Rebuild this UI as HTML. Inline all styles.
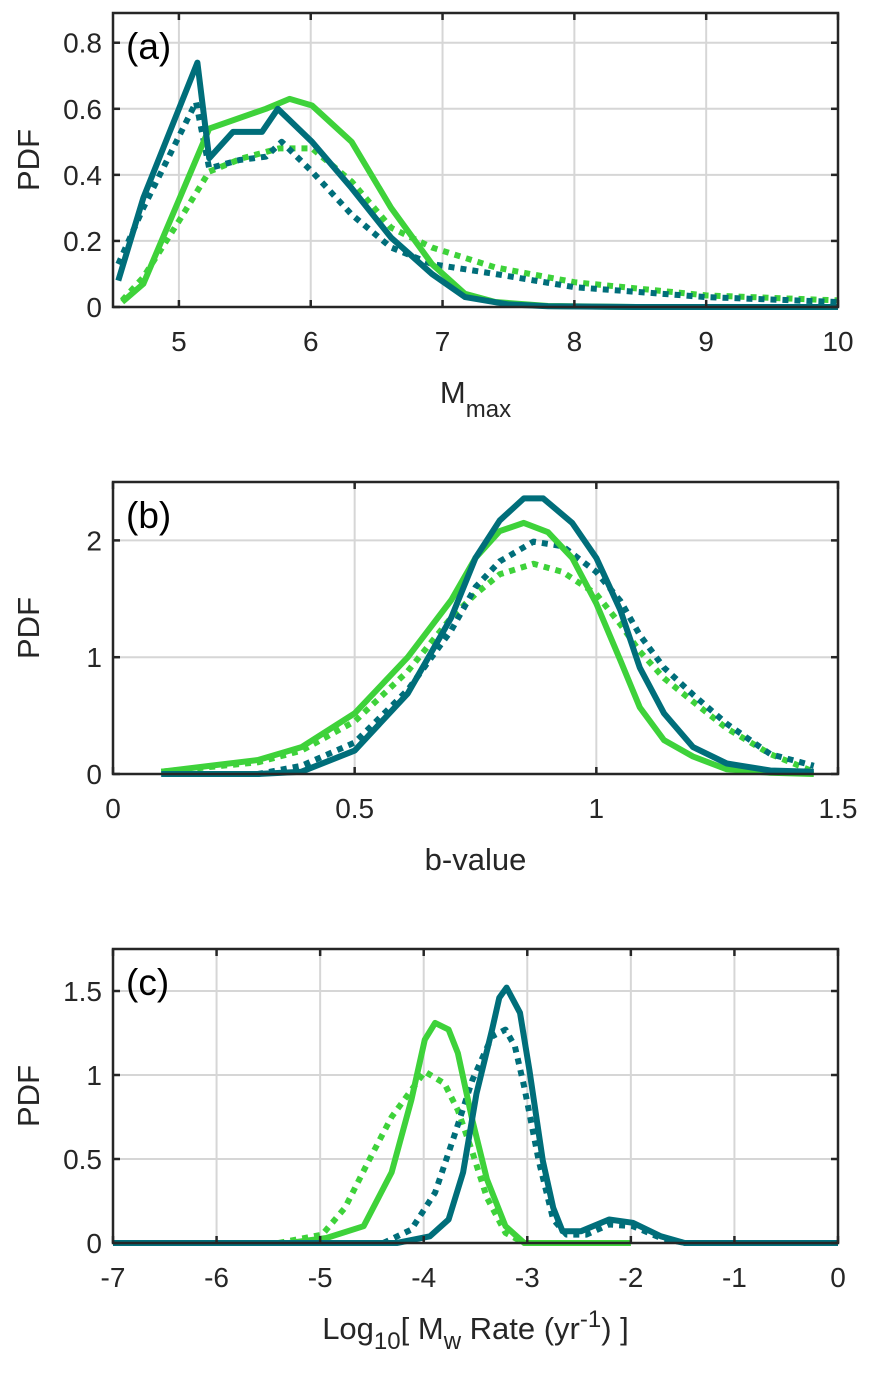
<!DOCTYPE html>
<html><head><meta charset="utf-8"><style>
body{margin:0;background:#fff;}
svg{display:block;font-family:"Liberation Sans",Arial,sans-serif;}
</style></head><body>
<svg id="fig" width="876" height="1381" viewBox="0 0 876 1381" xmlns="http://www.w3.org/2000/svg"></svg>
<script>
// ---------- Panel (a) data: Mmax ----------
const aTealSolidX=[4.54,4.73,5.14,5.23,5.41,5.63,5.75,6.01,6.31,6.61,6.92,7.17,7.5,7.8,8.5,9.5,10];
const aTealSolidY=[0.08,0.33,0.74,0.45,0.53,0.53,0.60,0.50,0.36,0.21,0.10,0.03,0.008,0.002,0,0,0];
const aTealDotX=[4.54,4.73,5.13,5.23,5.46,5.66,5.78,6.01,6.31,6.61,6.92,7.4,8,9,10];
const aTealDotY=[0.13,0.30,0.62,0.42,0.445,0.455,0.50,0.41,0.28,0.18,0.13,0.10,0.06,0.03,0.015];
const aGreenSolidX=[4.57,4.73,5.23,5.66,5.84,6.01,6.31,6.61,6.92,7.17,7.4,7.8,8.5,9.5,10];
const aGreenSolidY=[0.015,0.07,0.54,0.60,0.63,0.61,0.50,0.30,0.13,0.04,0.015,0.003,0,0,0];
const aGreenDotX=[4.57,4.73,5.0,5.23,5.48,5.76,6.01,6.31,6.61,6.92,7.4,8,9,10];
const aGreenDotY=[0.02,0.09,0.26,0.41,0.45,0.48,0.48,0.38,0.24,0.18,0.12,0.075,0.035,0.02];
const aXTicks=[5,6,7,8,9,10];
const aYTicks=[0,0.2,0.4,0.6,0.8];
const aYTickLabels=["0","0.2","0.4","0.6","0.8"];

// ---------- Panel (b) data: b-value ----------
const bTealSolidX=[0.10,0.30,0.39,0.50,0.61,0.70,0.75,0.80,0.85,0.89,0.95,1.00,1.05,1.09,1.14,1.20,1.27,1.36,1.45];
const bTealSolidY=[0,0,0.02,0.20,0.69,1.34,1.85,2.17,2.36,2.36,2.15,1.85,1.40,0.91,0.52,0.23,0.09,0.03,0.02];
const bGreenSolidX=[0.10,0.30,0.39,0.50,0.61,0.70,0.75,0.80,0.85,0.90,0.95,1.00,1.05,1.09,1.14,1.20,1.27,1.36,1.45];
const bGreenSolidY=[0.02,0.12,0.23,0.52,1.0,1.49,1.85,2.08,2.15,2.07,1.85,1.46,0.97,0.57,0.29,0.15,0.04,0.01,0];
const bGreenDotX=[0.10,0.30,0.39,0.50,0.61,0.70,0.75,0.80,0.87,0.93,1.00,1.05,1.09,1.14,1.20,1.27,1.36,1.45];
const bGreenDotY=[0.02,0.10,0.20,0.45,0.88,1.34,1.54,1.71,1.80,1.73,1.54,1.28,1.05,0.82,0.62,0.39,0.17,0.02];
const bTealDotX=[0.10,0.30,0.39,0.50,0.61,0.70,0.75,0.80,0.87,0.93,1.00,1.05,1.09,1.14,1.20,1.27,1.36,1.45];
const bTealDotY=[0,0,0.07,0.27,0.72,1.23,1.60,1.82,1.99,1.95,1.73,1.48,1.19,0.91,0.68,0.43,0.17,0.07];
const bXTicks=[0,0.5,1,1.5];
const bXTickLabels=["0","0.5","1","1.5"];
const bYTicks=[0,1,2];

// ---------- Panel (c) data: log10 rate ----------
const cGreenSolidX=[-7,-5.3,-4.94,-4.58,-4.31,-4.12,-3.99,-3.89,-3.76,-3.67,-3.53,-3.39,-3.21,-3.03,-2.0];
const cGreenSolidY=[0,0,0.03,0.10,0.42,0.85,1.21,1.31,1.27,1.13,0.73,0.38,0.10,0,0];
const cGreenDotX=[-5.40,-4.98,-4.76,-4.53,-4.31,-4.12,-3.99,-3.80,-3.67,-3.53,-3.39,-3.21,-3.03];
const cGreenDotY=[0,0.05,0.21,0.49,0.75,0.91,1.02,0.95,0.79,0.54,0.27,0.06,0];
const cTealDotX=[-4.39,-4.12,-3.89,-3.71,-3.53,-3.34,-3.21,-3.12,-3.03,-2.89,-2.75,-2.62,-2.43,-2.21,-1.98,-1.71,-1.48];
const cTealDotY=[0,0.08,0.30,0.63,0.97,1.23,1.27,1.17,0.93,0.49,0.14,0.05,0.05,0.11,0.10,0.03,0];
const cTealSolidX=[-7,-4.26,-3.94,-3.76,-3.62,-3.49,-3.34,-3.27,-3.20,-3.07,-2.98,-2.85,-2.75,-2.66,-2.48,-2.21,-1.98,-1.71,-1.48,0];
const cTealSolidY=[0,0,0.04,0.14,0.42,0.89,1.27,1.46,1.52,1.37,1.03,0.49,0.21,0.07,0.07,0.14,0.12,0.04,0,0];
const cXTicks=[-7,-6,-5,-4,-3,-2,-1,0];
const cYTicks=[0,0.5,1,1.5];
const cYTickLabels=["0","0.5","1","1.5"];

const NS="http://www.w3.org/2000/svg";
const svg=document.getElementById('fig');
const TEAL="#006e7a", GREEN="#3ed23a";
function mk(tag,attrs,parent){const e=document.createElementNS(NS,tag);for(const k in attrs)e.setAttribute(k,attrs[k]);(parent||svg).appendChild(e);return e;}

function panel(cfg){
  const g=mk('g',{});
  
  
  const L=113,R=838,T=cfg.top,B=cfg.bottom;
  const sx=v=>L+(v-cfg.xmin)/(cfg.xmax-cfg.xmin)*(R-L);
  const sy=v=>B-(v-cfg.ymin)/(cfg.ymax-cfg.ymin)*(B-T);
  cfg.xticks.forEach(v=>{const x=sx(v);const l=mk('line',{x1:x,x2:x,y1:T,y2:B,stroke:'#d6d6d6','stroke-width':2},g);
    });
  cfg.yticks.forEach(v=>{const y=sy(v);const l=mk('line',{x1:L,x2:R,y1:y,y2:y,stroke:'#d6d6d6','stroke-width':2},g);
    });
  cfg.series.forEach(s=>{
    const pts=s.x.map((v,i)=>sx(v).toFixed(1)+','+sy(s.y[i]).toFixed(1)).join(' ');
    const p=mk('polyline',{points:pts,fill:'none',stroke:s.color,'stroke-width':6,'stroke-linejoin':'round'},g);
    if(s.dot)p.setAttribute('stroke-dasharray','6 6');
    
    
  });
  const bx=mk('rect',{x:L,y:T,width:R-L,height:B-T,fill:'none',stroke:'#262626','stroke-width':2.5},g);
  
  cfg.xticks.forEach((v,i)=>{const x=sx(v);
    mk('line',{x1:x,x2:x,y1:B,y2:B-7,stroke:'#262626','stroke-width':2.5},g);
    mk('line',{x1:x,x2:x,y1:T,y2:T+7,stroke:'#262626','stroke-width':2.5},g);
    const t=mk('text',{x:x,y:B+44,'text-anchor':'middle','font-size':28,fill:'#262626'},g);
    t.textContent=cfg.xlabels?cfg.xlabels[i]:String(v);
    
  });
  cfg.yticks.forEach((v,i)=>{const y=sy(v);
    mk('line',{x1:L,x2:L+7,y1:y,y2:y,stroke:'#262626','stroke-width':2.5},g);
    mk('line',{x1:R,x2:R-7,y1:y,y2:y,stroke:'#262626','stroke-width':2.5},g);
    const t=mk('text',{x:L-11,y:y+10,'text-anchor':'end','font-size':28,fill:'#262626'},g);
    t.textContent=cfg.ylabels?cfg.ylabels[i]:String(v);
    
  });
  const yl=mk('text',{x:0,y:0,'text-anchor':'middle','font-size':31,fill:'#262626',transform:`translate(39,${(T+B)/2}) rotate(-90)`},g);
  yl.textContent='PDF';
  
  const pl=mk('text',{x:L+13,y:T+46,'font-size':37,fill:'#000'},g);
  pl.textContent=cfg.tag;
  
  const xl=mk('text',{x:(L+R)/2,y:B+96,'text-anchor':'middle','font-size':31,fill:'#262626'},g);
  xl.innerHTML=cfg.xtitle;
  
}

panel({name:'panel-a-mmax',tag:'(a)',top:13,bottom:307,xmin:4.5,xmax:10,ymin:0,ymax:0.89,
  xticks:aXTicks,yticks:aYTicks,ylabels:aYTickLabels,
  xtitle:'M<tspan font-size="24" dy="14">max</tspan>',
  series:[
    {x:aGreenDotX,y:aGreenDotY,color:GREEN,dot:true,name:'green-dotted-line'},
    {x:aTealDotX,y:aTealDotY,color:TEAL,dot:true,name:'teal-dotted-line'},
    {x:aGreenSolidX,y:aGreenSolidY,color:GREEN,dot:false,name:'green-solid-line'},
    {x:aTealSolidX,y:aTealSolidY,color:TEAL,dot:false,name:'teal-solid-line'}]});
panel({name:'panel-b-bvalue',tag:'(b)',top:482,bottom:774,xmin:0,xmax:1.5,ymin:0,ymax:2.5,
  xticks:bXTicks,xlabels:bXTickLabels,yticks:bYTicks,
  xtitle:'b-value',
  series:[
    {x:bGreenDotX,y:bGreenDotY,color:GREEN,dot:true,name:'green-dotted-line'},
    {x:bTealDotX,y:bTealDotY,color:TEAL,dot:true,name:'teal-dotted-line'},
    {x:bGreenSolidX,y:bGreenSolidY,color:GREEN,dot:false,name:'green-solid-line'},
    {x:bTealSolidX,y:bTealSolidY,color:TEAL,dot:false,name:'teal-solid-line'}]});
panel({name:'panel-c-rate',tag:'(c)',top:949,bottom:1243,xmin:-7,xmax:0,ymin:0,ymax:1.75,
  xticks:cXTicks,yticks:cYTicks,ylabels:cYTickLabels,
  xtitle:'Log<tspan font-size="24" dy="10">10</tspan><tspan dy="-10">[ M</tspan><tspan font-size="24" dy="10">w</tspan><tspan dy="-10"> Rate (yr</tspan><tspan font-size="24" dy="-12">-1</tspan><tspan dy="12">) ]</tspan>',
  series:[
    {x:cGreenDotX,y:cGreenDotY,color:GREEN,dot:true,name:'green-dotted-line'},
    {x:cTealDotX,y:cTealDotY,color:TEAL,dot:true,name:'teal-dotted-line'},
    {x:cGreenSolidX,y:cGreenSolidY,color:GREEN,dot:false,name:'green-solid-line'},
    {x:cTealSolidX,y:cTealSolidY,color:TEAL,dot:false,name:'teal-solid-line'}]});
</script>
</body></html>
